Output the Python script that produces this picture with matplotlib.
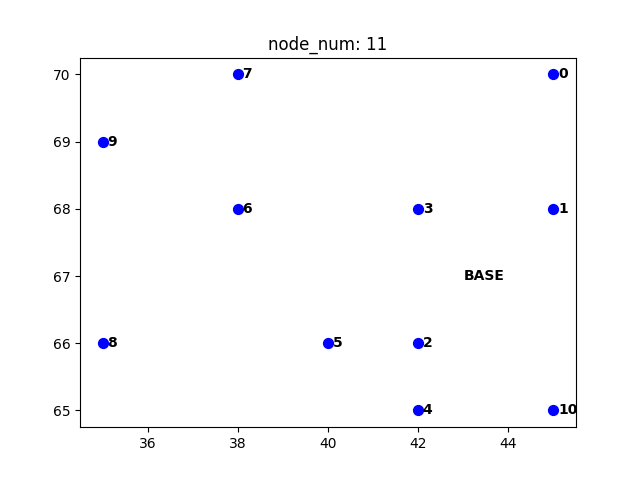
import matplotlib
matplotlib.use("Agg")
import matplotlib.pyplot as plt

node_ids = list(range(11))
xs = [45, 45, 42, 42, 42, 40, 38, 38, 35, 35, 45]
ys = [70, 68, 66, 68, 65, 66, 68, 70, 66, 69, 65]
base_x, base_y = 43, 67

fig, ax = plt.subplots(figsize=(6.4, 4.8), dpi=100)
ax.scatter(xs, ys, s=50, c='blue')
for i, x, y in zip(node_ids, xs, ys):
    ax.text(x + 0.1, y, str(i), fontweight='bold', va='center', ha='left')
ax.text(base_x, base_y, 'BASE', fontweight='bold', va='center', ha='left')
ax.set_title('node_num: 11')
fig.savefig('out.png')
